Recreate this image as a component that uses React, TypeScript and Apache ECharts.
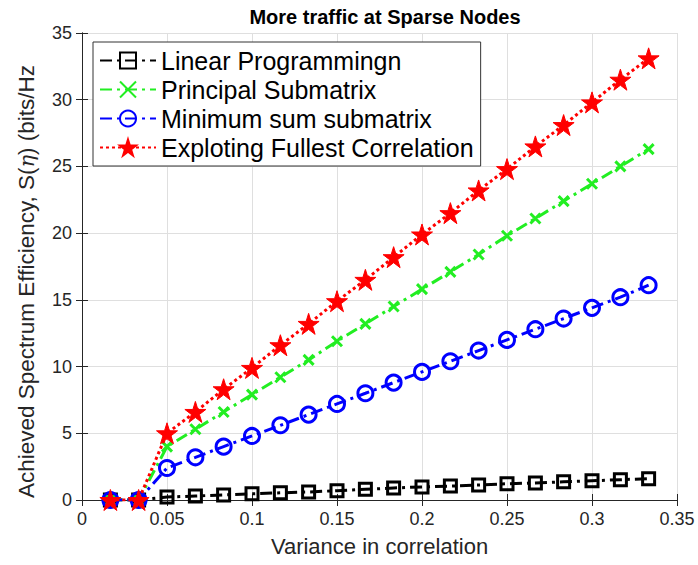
import React, { useEffect, useRef } from "react";
import * as echarts from "echarts";

const titleText = "More traffic at Sparse Nodes";
const xAxisName = "Variance in correlation";
const seriesNames = [
  "Linear Programmingn",
  "Principal Submatrix",
  "Minimum sum submatrix",
  "Exploting Fullest Correlation",
];
const xValues = [
  0.0167, 0.0333, 0.05, 0.0667, 0.0833, 0.1, 0.1167, 0.1333, 0.15, 0.1667,
  0.1833, 0.2, 0.2167, 0.2333, 0.25, 0.2667, 0.2833, 0.3, 0.3167, 0.3333,
];
const linearProgramming = [
  0, 0, 0.22, 0.3, 0.38, 0.46, 0.54, 0.6, 0.7, 0.8, 0.9, 0.98, 1.04, 1.12,
  1.22, 1.28, 1.36, 1.44, 1.52, 1.6,
];
const principalSubmatrix = [
  0, 0, 4.0, 5.3, 6.6, 7.9, 9.2, 10.5, 11.9, 13.2, 14.5, 15.8, 17.1, 18.4,
  19.8, 21.1, 22.4, 23.7, 25.0, 26.3,
];
const minimumSum = [
  0, 0, 2.4, 3.2, 4.0, 4.8, 5.6, 6.4, 7.2, 8.0, 8.8, 9.6, 10.4, 11.2, 12.0,
  12.8, 13.6, 14.4, 15.2, 16.1,
];
const fullestCorrelation = [
  0, 0, 5.0, 6.6, 8.3, 9.9, 11.6, 13.2, 14.9, 16.5, 18.2, 19.9, 21.5, 23.2,
  24.8, 26.5, 28.1, 29.8, 31.5, 33.1,
];

const FONT = "'Liberation Sans', Arial, Helvetica, sans-serif";
const AXIS_COLOR = "#262626";
const STAR =
  "path://M50,0 L61.23,34.55 L97.55,34.55 L68.16,55.9 L79.39,90.45 L50,69.1 L20.61,90.45 L31.84,55.9 L2.45,34.55 L38.77,34.55 Z";
const CROSS = "path://M0,0 L10,10 M10,0 L0,10";

function pairs(ys: number[]) {
  return ys.map((y, i) => [xValues[i], y]);
}

export default function App() {
  const ref = useRef<HTMLDivElement>(null);
  useEffect(() => {
    if (!ref.current) return;
    const chart = echarts.init(ref.current, null, { renderer: "svg" });
    const tickAxis = {
      axisLine: { show: true, lineStyle: { color: AXIS_COLOR, width: 1 } },
      axisTick: { show: true, inside: true, length: 6, lineStyle: { color: AXIS_COLOR } },
    };
    chart.setOption({
      animation: false,
      backgroundColor: "#ffffff",
      title: {
        text: titleText,
        left: 380,
        textAlign: "center",
        top: 2,
        textStyle: { fontFamily: FONT, fontSize: 20, fontWeight: "bold", color: "#000" },
      },
      legend: {
        orient: "vertical",
        left: 93,
        top: 42,
        padding: [6, 7, 6, 6],
        itemWidth: 56,
        itemHeight: 20,
        itemGap: 4,
        backgroundColor: "#ffffff",
        borderColor: "#333333",
        borderWidth: 1,
        borderRadius: 0,
        textStyle: { fontFamily: FONT, fontSize: 25, color: "#000" },
        data: seriesNames,
      },
      grid: { left: 82, right: 21, top: 33, bottom: 65, containLabel: false },
      xAxis: [
        {
          type: "value",
          min: 0,
          max: 0.35,
          interval: 0.05,
          position: "bottom",
          name: xAxisName,
          nameLocation: "middle",
          nameGap: 35,
          nameTextStyle: { fontFamily: FONT, fontSize: 22, color: AXIS_COLOR },
          ...tickAxis,
          axisLabel: { fontFamily: FONT, fontSize: 18, color: AXIS_COLOR, margin: 10 },
          splitLine: { show: true, lineStyle: { color: "#dfdfdf", width: 1 } },
        },
        {
          type: "value",
          min: 0,
          max: 0.35,
          interval: 0.05,
          position: "top",
          ...tickAxis,
          axisLabel: { show: false },
          splitLine: { show: false },
        },
      ],
      yAxis: [
        {
          type: "value",
          min: 0,
          max: 35,
          interval: 5,
          position: "left",
          name: "Achieved Spectrum Efficiency, S({i|η}) (bits/Hz",
          nameLocation: "middle",
          nameGap: 44,
          nameTextStyle: {
            fontFamily: FONT,
            fontSize: 22.5,
            color: AXIS_COLOR,
            padding: [0, 30, 0, 0],
            rich: { i: { fontFamily: "'DejaVu Serif', serif", fontStyle: "italic", fontSize: 21, color: AXIS_COLOR } },
          },
          ...tickAxis,
          axisLabel: { fontFamily: FONT, fontSize: 18, color: AXIS_COLOR, margin: 10 },
          splitLine: { show: true, lineStyle: { color: "#dfdfdf", width: 1 } },
        },
        {
          type: "value",
          min: 0,
          max: 35,
          interval: 5,
          position: "right",
          ...tickAxis,
          axisLabel: { show: false },
          splitLine: { show: false },
        },
      ],
      series: [
        {
          name: seriesNames[0],
          type: "line",
          data: pairs(linearProgramming),
          symbol: "rect",
          symbolSize: 12,
          lineStyle: { color: "#000000", width: 3, type: [12, 5, 3, 5] },
          itemStyle: { color: "rgba(255,255,255,0)", borderColor: "#000000", borderWidth: 3 },
          z: 2,
        },
        {
          name: seriesNames[1],
          type: "line",
          data: pairs(principalSubmatrix),
          symbol: CROSS,
          symbolSize: 10,
          lineStyle: { color: "#22ee22", width: 3, type: [12, 5, 3, 5] },
          itemStyle: { color: "rgba(255,255,255,0)", borderColor: "#22ee22", borderWidth: 3 },
          z: 3,
        },
        {
          name: seriesNames[2],
          type: "line",
          data: pairs(minimumSum),
          symbol: "circle",
          symbolSize: 15,
          lineStyle: { color: "#0000ff", width: 3, type: [12, 5, 3, 5] },
          itemStyle: { color: "rgba(255,255,255,0)", borderColor: "#0000ff", borderWidth: 3 },
          z: 4,
        },
        {
          name: seriesNames[3],
          type: "line",
          data: pairs(fullestCorrelation),
          symbol: STAR,
          symbolSize: 21,
          lineStyle: { color: "#ff0000", width: 3, type: [3, 3] },
          itemStyle: { color: "#ff0000", borderColor: "#ff0000", borderWidth: 1 },
          z: 5,
        },
      ],
    });
    return () => chart.dispose();
  }, []);
  return (
    <div
      ref={ref}
      style={{ position: "fixed", left: 0, top: 0, width: 698, height: 565, background: "#fff" }}
    />
  );
}
